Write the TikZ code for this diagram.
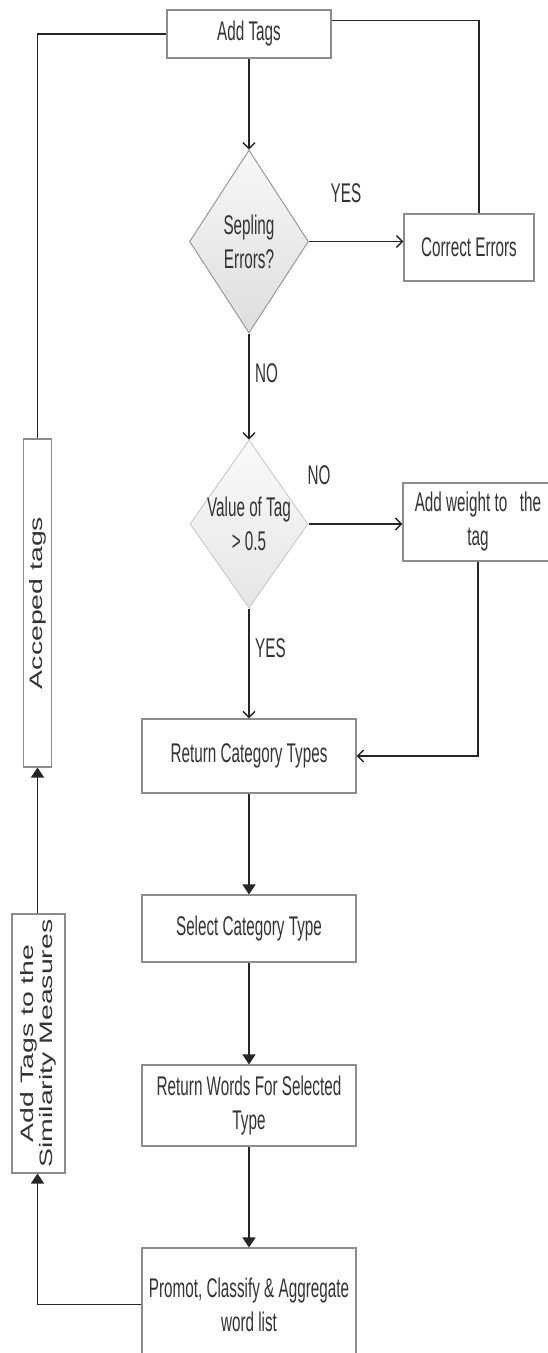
\documentclass[tikz,border=0pt]{standalone}
\usepackage{fontspec}
\newfontfamily\boxfont[FakeStretch=0.565]{Liberation Sans}
\newfontfamily\sidefont[FakeStretch=1.58]{Liberation Sans}
\usetikzlibrary{shapes.geometric,arrows.meta}

\tikzset{
  ch/.tip={Straight Barb[length=6pt,width=12pt,line width=1.4pt]},
  tri/.tip={Triangle[length=10pt,width=13pt]},
  txt/.style={text=black!80, font=\boxfont\fontsize{27}{34}\selectfont, align=center, inner sep=1pt},
  box/.style={txt, rectangle, draw=black!45, line width=1.1pt, fill=white},
  sidebox/.style={rectangle, draw=black!45, line width=1.1pt, fill=white, rotate=90,
    text=black!80, font=\sidefont\fontsize{18}{18.5}\selectfont, align=center, inner sep=0pt},
  decision/.style={diamond, draw=black!40, line width=1pt, inner sep=0pt,
    top color=black!3, bottom color=black!13},
  conn/.style={draw=black!85, line width=1.3pt},
  lbl/.style={txt}
}

\begin{document}
\begin{tikzpicture}[x=1pt,y=-1pt]
\useasboundingbox (0,0) rectangle (548,1353);
\clip (0,0) rectangle (548,1353);
\fill[white] (0,0) rectangle (548,1353);

% main column
\node[box, minimum width=164pt, minimum height=48pt] (at) at (249,34) {Add Tags};
\node[decision, minimum width=119pt, minimum height=183pt] (d1) at (249,241.5) {};
\node[txt] (d1t) at (d1.center) {Sepling\\Errors?};
\node[box, minimum width=130pt, minimum height=67pt] (ce) at (469,247.5) {Correct Errors};
\node[decision, draw=black!20, top color=black!2, bottom color=black!10,
      minimum width=118pt, minimum height=168pt] (d2) at (249,524) {};
\node[txt] (d2t) at (d2.center) {Value of Tag\\> 0.5};
\node[box, minimum width=150pt, minimum height=78pt] (aw) at (478,522) {Add weight to~~~the\\tag};
\node[box, minimum width=214pt, minimum height=74pt] (rc) at (249,756) {Return Category Types};
\node[box, minimum width=214pt, minimum height=67pt] (sc) at (249,928.5) {Select Category Type};
\node[box, minimum width=214pt, minimum height=81pt] (rw) at (249,1105.5) {Return Words For Selected\\Type};
\node[box, minimum width=214pt, minimum height=113pt] (pr) at (249,1304.5) {Promot, Classify \& Aggregate\\word list};

% side column (rotated)
\node[sidebox, minimum width=328pt, minimum height=28pt] (acc) at (37.5,603) {Acceped tags};
\node[sidebox, minimum width=259pt, minimum height=53pt] (sim) at (38.5,1043.5) {Add Tags to the\\Similarity Measures};
\coordinate (upline) at (37.5,0);

% branch labels
\node[lbl] (yes1) at (346,193) {YES};
\node[lbl, anchor=west] (no1) at (254,373) {NO};
\node[lbl] (no2) at (319,475) {NO};
\node[lbl, anchor=west] (yes2) at (254,648) {YES};

% connectors
\draw[conn, -ch] (at.south) -- (d1.north);
\draw[conn, -ch] (d1.east) -- (d1.east -| ce.west);
\draw[conn] ([xshift=10pt]ce.north) |- ([yshift=-11pt]at.north east);
\draw[conn, -ch] (d1.south) -- (d2.north);
\draw[conn, -ch] (d2.east) -- (d2.east -| aw.west);
\draw[conn, -ch] (d2.south) -- (rc.north);
\draw[conn, -ch] (aw.south) |- (rc.east);
\draw[conn, -tri] (rc.south) -- (sc.north);
\draw[conn, -tri] (sc.south) -- (rw.north);
\draw[conn, -tri] (rw.south) -- (pr.north);
\draw[conn, -tri] (pr.west) -| (upline |- sim.west);
\draw[conn, -tri] (upline |- sim.east) -- (upline |- acc.west);
\draw[conn] (acc.east) |- (at.west);
\end{tikzpicture}
\end{document}
